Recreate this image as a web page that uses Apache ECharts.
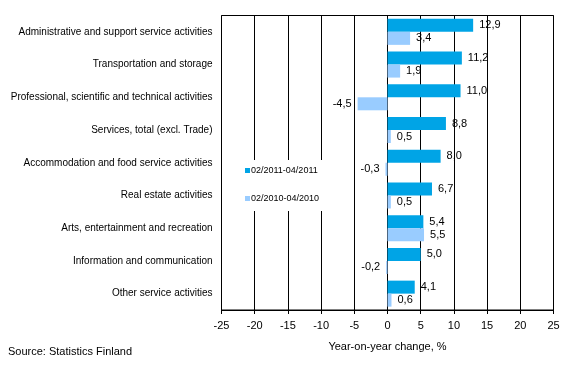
<!DOCTYPE html>
<html>
<head>
<meta charset="utf-8">
<script src="https://cdn.jsdelivr.net/npm/echarts@6/dist/echarts.min.js"></script>
<style>
html,body{margin:0;padding:0;background:#fff;}
#chart{width:569px;height:374px;}
</style>
</head>
<body>
<div id="chart"></div>
<script>
var categories = [
  "Administrative and support service activities",
  "Transportation and storage",
  "Professional, scientific and technical activities",
  "Services, total (excl. Trade)",
  "Accommodation and food service activities",
  "Real estate activities",
  "Arts, entertainment and recreation",
  "Information and communication",
  "Other service activities"
];
var series2011 = [12.9, 11.2, 11.0, 8.8, 8.0, 6.7, 5.4, 5.0, 4.1];
var series2010 = [3.4, 1.9, -4.5, 0.5, -0.3, 0.5, 5.5, -0.2, 0.6];
var seriesNames = ["02/2011-04/2011", "02/2010-04/2010"];
var xTicks = [-25, -20, -15, -10, -5, 0, 5, 10, 15, 20, 25];

var FONT = "Liberation Sans, Arial, sans-serif";
function fmt(v){ return String(v.toFixed(1)).replace('.', ','); }
function items(arr){
  return arr.map(function(v){
    return {value: v, label: {position: v < 0 ? 'left' : 'right'}};
  });
}

var chart = echarts.init(document.getElementById('chart'), null, {renderer: 'canvas'});
chart.setOption({
  animation: false,
  backgroundColor: '#ffffff',
  textStyle: {fontFamily: FONT},
  title: {
    text: 'Source: Statistics Finland',
    left: 3, top: 341,
    textStyle: {fontSize: 11, fontWeight: 'normal', color: '#000', fontFamily: FONT}
  },
  legend: {
    orient: 'vertical',
    left: 240, top: 160,
    itemWidth: 5, itemHeight: 5,
    itemGap: 19,
    padding: [6, 14, 8, 5],
    backgroundColor: '#ffffff',
    icon: 'rect',
    textStyle: {fontSize: 9, color: '#000', fontFamily: FONT, padding: [0, 0, 0, -4]},
    data: seriesNames
  },
  grid: {
    left: 221.5, right: 15.5, top: 15.5, bottom: 64,
    show: true, borderColor: '#000', borderWidth: 1,
    containLabel: false
  },
  xAxis: {
    type: 'value',
    min: xTicks[0], max: xTicks[xTicks.length - 1], interval: 5,
    name: 'Year-on-year change, %',
    nameLocation: 'middle', nameGap: 31,
    nameTextStyle: {fontSize: 11, color: '#000', fontFamily: FONT},
    axisLine: {show: true, lineStyle: {color: '#000'}},
    axisTick: {show: true, length: 4, lineStyle: {color: '#000'}},
    axisLabel: {fontSize: 11, color: '#000', margin: 10, fontFamily: FONT,
      formatter: function(v){ return String(v); }},
    splitLine: {show: true, lineStyle: {color: '#000', width: 1}}
  },
  yAxis: {
    type: 'category',
    inverse: true,
    data: categories,
    axisLine: {show: true, lineStyle: {color: '#000'}},
    axisTick: {show: false},
    axisLabel: {fontSize: 10, color: '#000', margin: 9, fontFamily: FONT},
    splitLine: {show: false}
  },
  series: [
    {
      name: seriesNames[0], type: 'bar',
      data: items(series2011),
      itemStyle: {color: '#00a4e6'},
      barWidth: 13, barGap: '0%',
      label: {show: true, distance: 6, fontSize: 11, color: '#000', fontFamily: FONT,
        formatter: function(p){ return fmt(p.value); }}
    },
    {
      name: seriesNames[1], type: 'bar',
      data: items(series2010),
      itemStyle: {color: '#99ccff'},
      barWidth: 13, barGap: '0%',
      label: {show: true, distance: 6, fontSize: 11, color: '#000', fontFamily: FONT,
        formatter: function(p){ return fmt(p.value); }}
    }
  ]
});
</script>
</body>
</html>
